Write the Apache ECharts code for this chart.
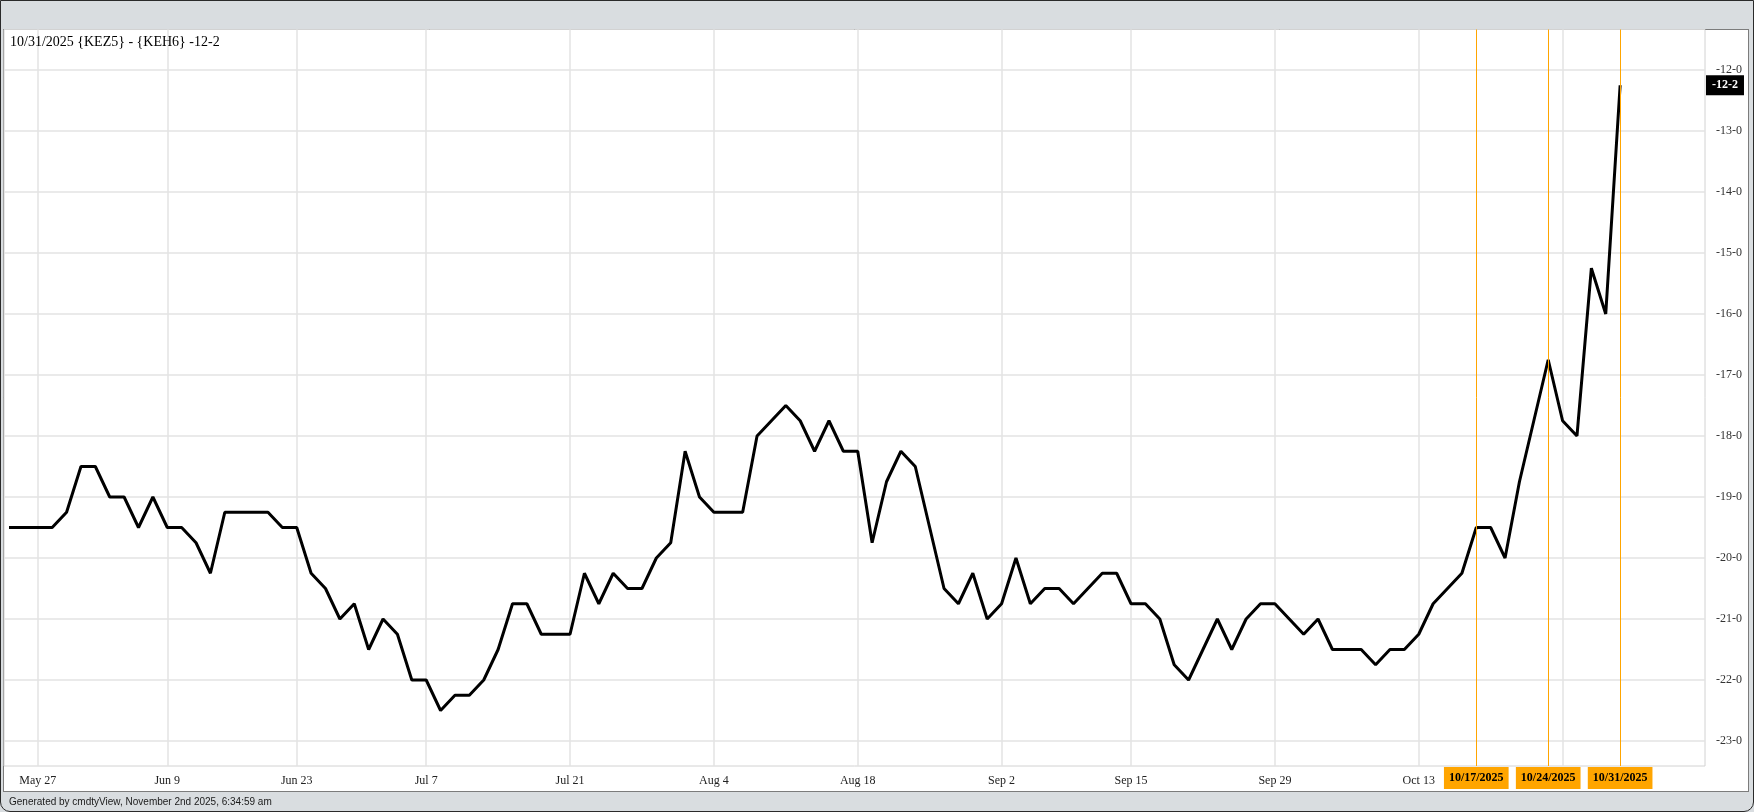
<!DOCTYPE html>
<html>
<head>
<meta charset="utf-8">
<script src="https://cdn.jsdelivr.net/npm/echarts@6/dist/echarts.min.js"></script>
<style>
  html, body { margin: 0; padding: 0; width: 1754px; height: 812px; overflow: hidden; background: #d9dde0; }
  #win { position: absolute; left: 0; top: 0; width: 1754px; height: 812px; box-sizing: border-box;
         border: 1px solid #2a2a2a; border-radius: 0 0 10px 10px; }
  #panel { position: absolute; left: 3px; top: 29px; width: 1746px; height: 763px; box-sizing: border-box;
           background: #ffffff; border: 1px solid #7c7c7c; }
  #chart { position: absolute; left: 0; top: 0; width: 1754px; height: 812px; }
</style>
</head>
<body>
<div id="win"></div>
<div id="panel"></div>
<div id="chart"></div>
<script>
// ---- data ----
const dates = [
  '2025-05-22','2025-05-23','2025-05-27','2025-05-28','2025-05-29','2025-05-30',
  '2025-06-02','2025-06-03','2025-06-04','2025-06-05','2025-06-06',
  '2025-06-09','2025-06-10','2025-06-11','2025-06-12','2025-06-13',
  '2025-06-16','2025-06-17','2025-06-18','2025-06-20',
  '2025-06-23','2025-06-24','2025-06-25','2025-06-26','2025-06-27',
  '2025-06-30','2025-07-01','2025-07-02','2025-07-03',
  '2025-07-07','2025-07-08','2025-07-09','2025-07-10','2025-07-11',
  '2025-07-14','2025-07-15','2025-07-16','2025-07-17','2025-07-18',
  '2025-07-21','2025-07-22','2025-07-23','2025-07-24','2025-07-25',
  '2025-07-28','2025-07-29','2025-07-30','2025-07-31','2025-08-01',
  '2025-08-04','2025-08-05','2025-08-06','2025-08-07','2025-08-08',
  '2025-08-11','2025-08-12','2025-08-13','2025-08-14','2025-08-15',
  '2025-08-18','2025-08-19','2025-08-20','2025-08-21','2025-08-22',
  '2025-08-25','2025-08-26','2025-08-27','2025-08-28','2025-08-29',
  '2025-09-02','2025-09-03','2025-09-04','2025-09-05',
  '2025-09-08','2025-09-09','2025-09-10','2025-09-11','2025-09-12',
  '2025-09-15','2025-09-16','2025-09-17','2025-09-18','2025-09-19',
  '2025-09-22','2025-09-23','2025-09-24','2025-09-25','2025-09-26',
  '2025-09-29','2025-09-30','2025-10-01','2025-10-02','2025-10-03',
  '2025-10-06','2025-10-07','2025-10-08','2025-10-09','2025-10-10',
  '2025-10-13','2025-10-14','2025-10-15','2025-10-16','2025-10-17',
  '2025-10-20','2025-10-21','2025-10-22','2025-10-23','2025-10-24',
  '2025-10-27','2025-10-28','2025-10-29','2025-10-30','2025-10-31'
];
const spread = [
  -19.5, -19.5, -19.5, -19.5, -19.25, -18.5,
  -18.5, -19.0, -19.0, -19.5, -19.0,
  -19.5, -19.5, -19.75, -20.25, -19.25,
  -19.25, -19.25, -19.25, -19.5,
  -19.5, -20.25, -20.5, -21.0, -20.75,
  -21.5, -21.0, -21.25, -22.0,
  -22.0, -22.5, -22.25, -22.25, -22.0,
  -21.5, -20.75, -20.75, -21.25, -21.25,
  -21.25, -20.25, -20.75, -20.25, -20.5,
  -20.5, -20.0, -19.75, -18.25, -19.0,
  -19.25, -19.25, -19.25, -18.0, -17.75,
  -17.5, -17.75, -18.25, -17.75, -18.25,
  -18.25, -19.75, -18.75, -18.25, -18.5,
  -19.5, -20.5, -20.75, -20.25, -21.0,
  -20.75, -20.0, -20.75, -20.5,
  -20.5, -20.75, -20.5, -20.25, -20.25,
  -20.75, -20.75, -21.0, -21.75, -22.0,
  -21.5, -21.0, -21.5, -21.0, -20.75,
  -20.75, -21.0, -21.25, -21.0, -21.5,
  -21.5, -21.5, -21.75, -21.5, -21.5,
  -21.25, -20.75, -20.5, -20.25, -19.5,
  -19.5, -20.0, -18.75, -17.75, -16.75,
  -17.75, -18.0, -15.25, -16.0, -12.25
];
const gridDates  = ['2025-05-27','2025-06-09','2025-06-23','2025-07-07','2025-07-21','2025-08-04',
                    '2025-08-18','2025-09-02','2025-09-15','2025-09-29','2025-10-13','2025-10-27'];
const labelDates = ['2025-05-27','2025-06-09','2025-06-23','2025-07-07','2025-07-21','2025-08-04',
                    '2025-08-18','2025-09-02','2025-09-15','2025-09-29','2025-10-13'];
const markerDates = ['2025-10-17','2025-10-24','2025-10-31'];
const yTicks = [-23, -22, -21, -20, -19, -18, -17, -16, -15, -14, -13, -12];
const spreadName = '{KEZ5} - {KEH6}';
const footerText = 'Generated by cmdtyView, November 2nd 2025, 6:34:59 am';

// ---- helpers ----
const MON = ['Jan','Feb','Mar','Apr','May','Jun','Jul','Aug','Sep','Oct','Nov','Dec'];
const shortDate = d => { const p = d.split('-'); return MON[+p[1]-1] + ' ' + (+p[2]); };
const usDate = d => { const p = d.split('-'); return p[1] + '/' + p[2] + '/' + p[0]; };
const fmtPx = v => {
  const a = Math.abs(v); const w = Math.floor(a + 1e-9); const f = Math.round((a - w) * 8);
  return (v < 0 ? '-' : '') + w + '-' + f;
};
const lastIdx = spread.length - 1;
const lastVal = spread[lastIdx];
const serif = 'Liberation Serif';

const chart = echarts.init(document.getElementById('chart'), null, { renderer: 'canvas' });
chart.setOption({
  animation: false,
  title: [
    { text: usDate(dates[lastIdx]) + ' ' + spreadName + ' ' + fmtPx(lastVal),
      left: 10, top: 35, padding: 0,
      textStyle: { fontFamily: serif, fontSize: 14, fontWeight: 'normal', color: '#000' } },
    { text: footerText, left: 9, top: 797, padding: 0,
      textStyle: { fontFamily: 'Liberation Sans', fontSize: 10, fontWeight: 'normal', color: '#1a1a1a' } }
  ],
  grid: { left: 4, right: 49, top: 29.5, bottom: 46, show: true, borderColor: '#d2d2d2', borderWidth: 1,
          backgroundColor: 'transparent' },
  xAxis: {
    type: 'value', min: -0.35, max: 117.9,
    axisLine: { show: false },
    axisTick: { show: false, customValues: gridDates.map(d => dates.indexOf(d)) },
    axisLabel: { customValues: labelDates.map(d => dates.indexOf(d)),
                 formatter: v => shortDate(dates[Math.round(v)]),
                 fontFamily: serif, fontSize: 12, color: '#222', margin: 9 },
    splitLine: { show: true, lineStyle: { color: '#e3e3e3', width: 1.5 } }
  },
  yAxis: {
    type: 'value', position: 'right', min: -23.41, max: -11.336,
    axisLine: { show: false },
    axisTick: { show: false, customValues: yTicks },
    axisLabel: { customValues: yTicks, formatter: v => fmtPx(v),
                 fontFamily: serif, fontSize: 12, color: '#333', margin: 11 },
    splitLine: { show: true, lineStyle: { color: '#e3e3e3', width: 1.5 } }
  },
  series: [{
    type: 'line',
    data: spread.map((v, i) => [i, v]),
    showSymbol: false,
    lineStyle: { color: '#000', width: 3 },
    z: 3,
    markLine: {
      symbol: 'none', silent: true, animation: false,
      data: [
        ...markerDates.map(d => ({
          xAxis: dates.indexOf(d),
          lineStyle: { color: '#FFA500', width: 1, type: 'solid' },
          label: { show: true, position: 'start', formatter: usDate(d), distance: 1,
                   backgroundColor: '#FFA500', color: '#000', fontWeight: 'bold',
                   fontFamily: serif, fontSize: 12, lineHeight: 12, padding: [5, 5] }
        })),
        {
          yAxis: lastVal,
          lineStyle: { color: 'rgba(0,0,0,0)', width: 1, type: 'solid' },
          label: { show: true, position: 'end', formatter: fmtPx(lastVal), distance: 1,
                   backgroundColor: '#000', color: '#fff', fontWeight: 'bold',
                   fontFamily: serif, fontSize: 12, lineHeight: 12, padding: [4, 6] }
        }
      ]
    }
  }]
});
</script>
</body>
</html>
